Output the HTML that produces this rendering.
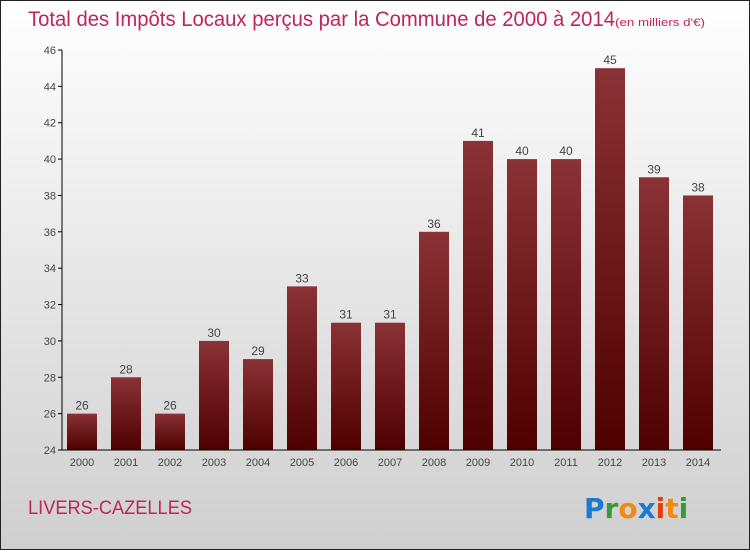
<!DOCTYPE html>
<html><head><meta charset="utf-8"><style>
body{margin:0;width:750px;height:550px;overflow:hidden;font-family:"Liberation Sans",sans-serif}
</style></head><body>
<svg width="750" height="550" xmlns="http://www.w3.org/2000/svg">
<defs>
<linearGradient id="bg" x1="0" y1="0" x2="0" y2="1"><stop offset="0" stop-color="#ffffff"/><stop offset="1" stop-color="#cfcfcf"/></linearGradient>
<linearGradient id="bar" x1="0" y1="0" x2="0" y2="1"><stop offset="0" stop-color="#8a3236"/><stop offset="1" stop-color="#4e0000"/></linearGradient>
</defs>
<rect x="0.5" y="0.5" width="749" height="549" fill="url(#bg)" stroke="#222"/>
<text x="28" y="26" font-size="21" fill="#c0245a" textLength="587" lengthAdjust="spacingAndGlyphs">Total des Impôts Locaux perçus par la Commune de 2000 à 2014</text>
<text x="615" y="26" font-size="11" fill="#c0245a" textLength="90" lengthAdjust="spacingAndGlyphs">(en milliers d'€)</text>
<g id="plot"></g>
<text x="28" y="514" font-size="19" fill="#c0245a" textLength="164" lengthAdjust="spacingAndGlyphs">LIVERS-CAZELLES</text>
<g font-size="28" font-weight="bold" font-family="'DejaVu Sans',sans-serif">
<text x="584" y="518"><tspan fill="#1a7bd4">P</tspan><tspan fill="#3a9a3a">r</tspan><tspan fill="#f08a10">o</tspan><tspan fill="#1a7bd4">x</tspan><tspan fill="#e83a10">i</tspan><tspan fill="#f08a10">t</tspan><tspan fill="#3a9a3a">i</tspan></text>
</g>
</svg>
<script>
const years=["2000","2001","2002","2003","2004","2005","2006","2007","2008","2009","2010","2011","2012","2013","2014"];
const values=[26,28,26,30,29,33,31,31,36,41,40,40,45,39,38];
const yTicks=[24,26,28,30,32,34,36,38,40,42,44,46];
const ns="http://www.w3.org/2000/svg";
const g=document.getElementById('plot');
const y=v=>450-(v-24)*400/22;
const x=i=>82+i*44;
function mk(t,a,txt){const e=document.createElementNS(ns,t);for(const k in a)e.setAttribute(k,a[k]);if(txt!=null)e.textContent=txt;g.appendChild(e);return e;}
yTicks.forEach(t=>{
const l=mk('line',{x1:58,x2:62,y1:y(t),y2:y(t),stroke:'#000'});


const tx=mk('text',{x:56,y:y(t)+4,'font-size':11,fill:'#444','text-anchor':'end'},t);


});
values.forEach((v,i)=>{
const r=mk('rect',{x:x(i)-15,y:y(v),width:30,height:450-y(v),fill:'url(#bar)'});


const vl=mk('text',{x:x(i),y:y(v)-4,'font-size':12,fill:'#444','text-anchor':'middle'},v);


const xl=mk('text',{x:x(i),y:466,'font-size':11,fill:'#444','text-anchor':'middle'},years[i]);


});
const ya=mk('line',{x1:62,x2:62,y1:50,y2:450,stroke:'#000'});


const xa=mk('line',{x1:62,x2:721,y1:450,y2:450,stroke:'#000'});


</script>
</body></html>
